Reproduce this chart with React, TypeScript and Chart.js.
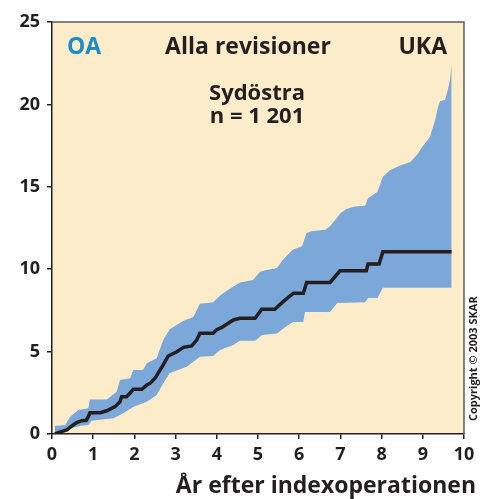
import React, { useEffect, useRef } from "react";
import { Chart, registerables } from "chart.js";

Chart.register(...registerables);

// Kaplan-Meier cumulative revision (%) — centre line
const midX = [0.07, 0.23, 0.36, 0.48, 0.6, 0.72, 0.83, 0.88, 0.92, 1.17, 1.33, 1.53, 1.65, 1.69, 1.81, 1.89, 1.97, 2.18, 2.3, 2.38, 2.5, 2.62, 2.7, 2.82, 3.03, 3.19, 3.39, 3.51, 3.59, 3.91, 3.99, 4.12, 4.4, 4.56, 4.93, 5.09, 5.41, 5.61, 5.86, 6.1, 6.18, 6.75, 6.99, 7.63, 7.67, 7.94, 8.03, 9.7];
const midY = [0, 0.14, 0.24, 0.49, 0.69, 0.81, 0.83, 1.05, 1.29, 1.29, 1.41, 1.66, 1.96, 2.26, 2.26, 2.47, 2.71, 2.71, 2.97, 3.07, 3.38, 3.88, 4.19, 4.73, 4.99, 5.26, 5.34, 5.7, 6.11, 6.11, 6.31, 6.47, 6.92, 7.02, 7.02, 7.57, 7.57, 8.03, 8.54, 8.54, 9.2, 9.2, 9.9, 9.9, 10.31, 10.31, 11.06, 11.06];

// Confidence band — upper limit
const upperX = [0.07, 0.32, 0.44, 0.64, 0.88, 0.92, 1.33, 1.57, 1.65, 1.9, 1.97, 2.21, 2.3, 2.54, 2.7, 2.86, 3.18, 3.43, 3.59, 3.91, 4.08, 4.25, 4.56, 4.88, 5.05, 5.2, 5.46, 5.6, 5.85, 6.07, 6.18, 6.3, 6.63, 6.75, 7.0, 7.15, 7.35, 7.6, 7.67, 7.9, 8.03, 8.2, 8.45, 8.7, 8.88, 8.98, 9.17, 9.3, 9.37, 9.42, 9.54, 9.61, 9.66, 9.7];
const upperY = [0.49, 0.55, 1.05, 1.46, 1.57, 2.1, 2.1, 2.57, 3.28, 3.38, 3.88, 3.88, 4.3, 4.6, 5.7, 6.35, 6.85, 7.1, 7.9, 8.0, 8.4, 8.7, 9.2, 9.35, 9.85, 9.95, 10.07, 10.56, 11.2, 11.4, 12.2, 12.3, 12.4, 12.6, 13.4, 13.65, 13.8, 13.85, 14.3, 14.7, 15.6, 16.0, 16.3, 16.5, 17.0, 17.4, 18.0, 19.05, 19.86, 20.2, 20.27, 20.9, 21.5, 22.5];

// Confidence band — lower limit
const lowerX = [0.07, 0.4, 0.7, 0.88, 0.96, 1.49, 1.73, 1.98, 2.3, 2.54, 2.7, 2.86, 3.27, 3.59, 3.91, 4.08, 4.4, 4.56, 4.93, 5.1, 5.46, 5.7, 5.85, 6.1, 6.14, 6.75, 6.92, 7.6, 7.67, 7.9, 8.03, 9.7];
const lowerY = [0, 0.3, 0.5, 0.55, 0.8, 0.96, 1.26, 1.66, 1.96, 2.37, 3.08, 3.7, 4.08, 4.69, 4.73, 5.1, 5.4, 5.66, 5.66, 6.0, 6.1, 6.55, 6.8, 6.8, 7.4, 7.4, 7.95, 8.0, 8.25, 8.25, 8.88, 8.88];

const xTicks = [0, 1, 2, 3, 4, 5, 6, 7, 8, 9, 10];
const yTicks = [0, 5, 10, 15, 20, 25];

const textTopLeft = "OA";
const textTopCenter = "Alla revisioner";
const textTopRight = "UKA";
const textRegion = "Sydöstra";
const textN = "n = 1 201";
const xTitle = "År efter indexoperationen";
const copyright = "Copyright © 2003 SKAR";

const CREAM = "#fdecc9";
const BAND = "#7ba7d9";
const INK = "#231f20";
const OA_BLUE = "#1b8bcb";
const FONT = '"Open Sans", "DejaVu Sans", sans-serif';

const toPts = (xs: number[], ys: number[]) => xs.map((x, i) => ({ x, y: ys[i] }));

export default function App() {
  const ref = useRef<HTMLCanvasElement | null>(null);

  useEffect(() => {
    document.body.style.margin = "0";
    const canvas = ref.current;
    if (!canvas) return;

    const decor = {
      id: "decor",
      beforeDraw(chart: any) {
        const { ctx, chartArea: a } = chart;
        ctx.save();
        ctx.fillStyle = CREAM;
        ctx.fillRect(a.left, a.top, a.right - a.left, a.bottom - a.top);
        ctx.restore();
      },
      afterDraw(chart: any) {
        const { ctx, chartArea: a } = chart;
        ctx.save();
        // frame top & right
        ctx.strokeStyle = "#5c5c5c";
        ctx.lineWidth = 1.5;
        ctx.beginPath();
        ctx.moveTo(a.left, a.top);
        ctx.lineTo(a.right, a.top);
        ctx.lineTo(a.right, a.bottom);
        ctx.stroke();

        ctx.textBaseline = "alphabetic";
        ctx.font = `bold 23px ${FONT}`;
        ctx.fillStyle = OA_BLUE;
        ctx.textAlign = "left";
        ctx.fillText(textTopLeft, 67, 54);
        ctx.fillStyle = INK;
        ctx.textAlign = "center";
        ctx.fillText(textTopCenter, 248, 54);
        ctx.textAlign = "right";
        ctx.fillText(textTopRight, 447, 54);
        ctx.textAlign = "center";
        ctx.font = `bold 22px ${FONT}`;
        ctx.fillText(textRegion, 257, 100);
        ctx.fillText(textN, 257, 123);

        ctx.font = `bold 23px ${FONT}`;
        ctx.textAlign = "right";
        ctx.fillText(xTitle, 476, 493);

        ctx.font = `bold 11px ${FONT}`;
        ctx.translate(477, 421);
        ctx.rotate(-Math.PI / 2);
        ctx.textAlign = "left";
        ctx.fillText(copyright, 0, 0);
        ctx.restore();
      },
    };

    const tickFont = { family: FONT, size: 18, weight: "bold" as const };

    const chart = new Chart(canvas, {
      type: "line",
      data: {
        datasets: [
          {
            label: "mid",
            data: toPts(midX, midY),
            borderColor: INK,
            borderWidth: 3.5,
            pointRadius: 0,
            tension: 0,
            fill: false,
          },
          {
            label: "upper",
            data: toPts(upperX, upperY),
            borderWidth: 0,
            borderColor: "rgba(0,0,0,0)",
            backgroundColor: BAND,
            pointRadius: 0,
            tension: 0,
            fill: "+1",
          },
          {
            label: "lower",
            data: toPts(lowerX, lowerY),
            borderWidth: 0,
            borderColor: "rgba(0,0,0,0)",
            pointRadius: 0,
            tension: 0,
            fill: false,
          },
        ],
      },
      options: {
        responsive: false,
        animation: false,
        layout: { padding: { top: 22, right: 16, left: 0, bottom: 0 } },
        plugins: {
          legend: { display: false },
          tooltip: { enabled: false },
          title: { display: false },
        },
        scales: {
          x: {
            type: "linear",
            min: 0,
            max: 10,
            afterBuildTicks: (s: any) => {
              s.ticks = xTicks.map((v) => ({ value: v }));
            },
            afterFit: (s: any) => {
              s.height = 65;
            },
            ticks: { font: tickFont, color: INK, padding: 5, maxRotation: 0 },
            grid: {
              drawOnChartArea: false,
              drawTicks: true,
              tickLength: 5,
              color: INK,
              lineWidth: 1.5,
            },
            border: { display: true, color: INK, width: 1.5 },
          },
          y: {
            type: "linear",
            min: 0,
            max: 25,
            afterBuildTicks: (s: any) => {
              s.ticks = yTicks.map((v) => ({ value: v }));
            },
            afterFit: (s: any) => {
              s.width = 52;
            },
            ticks: { font: tickFont, color: INK, padding: 7 },
            grid: {
              drawOnChartArea: false,
              drawTicks: true,
              tickLength: 5,
              color: INK,
              lineWidth: 1.5,
            },
            border: { display: true, color: INK, width: 1.5 },
          },
        },
      },
      plugins: [decor],
    });

    return () => chart.destroy();
  }, []);

  return (
    <div style={{ width: 480, height: 499 }}>
      <canvas ref={ref} width={480} height={499} style={{ display: "block" }} />
    </div>
  );
}
